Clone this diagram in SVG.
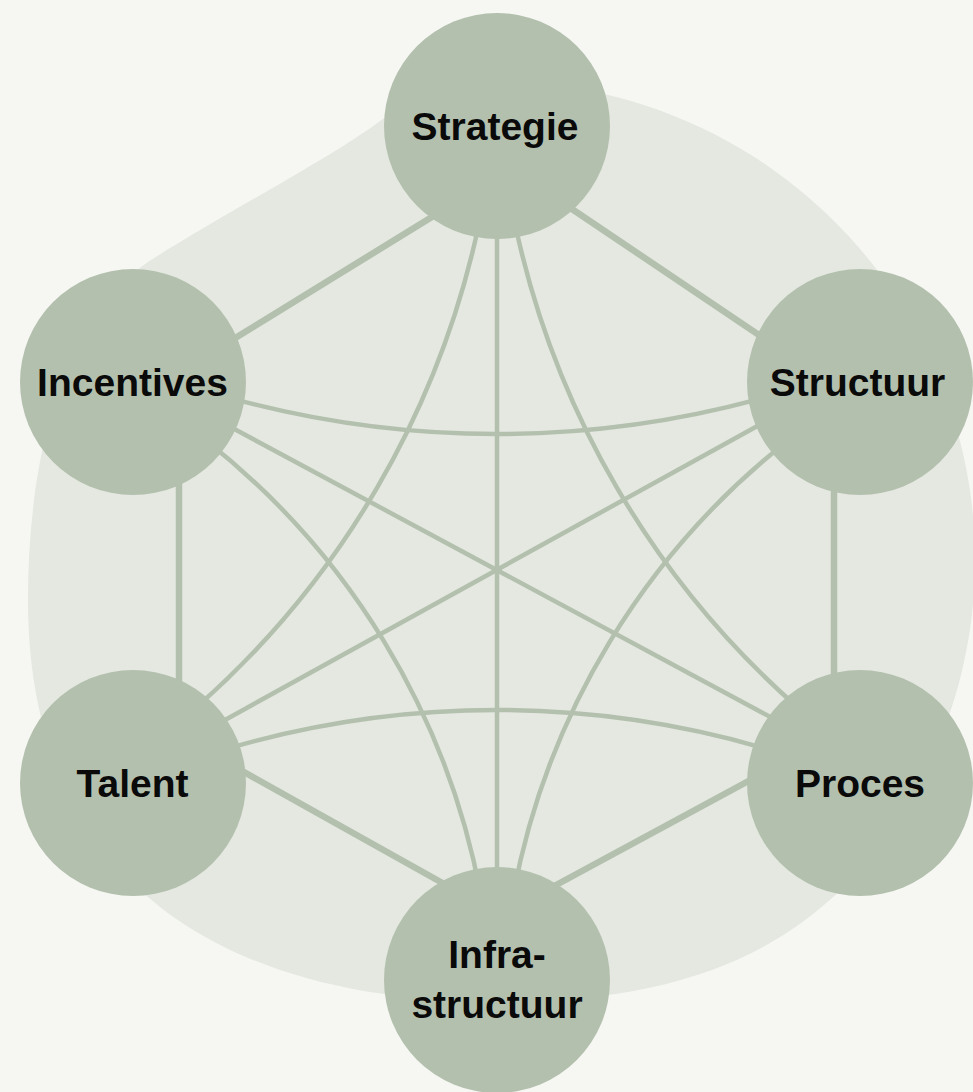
<svg xmlns="http://www.w3.org/2000/svg" width="973" height="1092" viewBox="0 0 973 1092">
<style>
.node{fill:#b4c0ae}
.lbl{font-family:"Liberation Sans",Arial,sans-serif;font-weight:bold;font-size:39px;fill:#0a0a0a;text-anchor:middle}
.edge{fill:none;stroke:#b4c0ae;stroke-width:6.5}
.link{fill:none;stroke:#b4c0ae;stroke-width:4.5}
</style>
<rect x="0" y="0" width="973" height="1092" fill="#f6f7f3"/>
<path id="blob" d="M 148 262 C 190 235, 240 207, 283 182 C 320 160, 360 138, 400 106 L 593.6 91.8 A 478 478 0 0 1 907.7 804.6 C 825.3 941.7, 700 1002, 500 1002 C 220 1002, 28 880, 28 600 C 28 450, 66 318, 148 262 Z" fill="#e4e8e1"/>
<g id="connectors">
<line class="edge" x1="440" y1="212" x2="232" y2="340"/>
<line class="edge" x1="563" y1="203" x2="765" y2="339"/>
<line class="edge" x1="179" y1="470" x2="179" y2="695"/>
<line class="edge" x1="834" y1="480" x2="834" y2="690"/>
<line class="edge" x1="235" y1="767" x2="455" y2="890"/>
<line class="edge" x1="755" y1="777.5" x2="545" y2="891"/>
<line class="link" x1="497" y1="230" x2="497" y2="875"/>
<line class="link" x1="225" y1="424" x2="775" y2="719.5"/>
<line class="link" x1="770" y1="419" x2="220" y2="722.7"/>
<path class="link" d="M 235 399.3 A 1003 1003 0 0 0 758 399.3"/>
<path class="link" d="M 232 747.3 A 957 957 0 0 1 761 747.3"/>
<path class="link" d="M 478.8 224.6 A 889 889 0 0 1 198.2 705.7"/>
<path class="link" d="M 515.2 224.6 A 889 889 0 0 0 795.8 705.7"/>
<path class="link" d="M 204.6 439.6 A 751 751 0 0 1 480.7 894.6"/>
<path class="link" d="M 789.4 439.6 A 751 751 0 0 0 513.3 894.6"/>
</g>
<g id="strategie">
<circle class="node" cx="497" cy="126" r="113"/>
<text class="lbl" x="495" y="139.5">Strategie</text>
</g>
<g id="incentives">
<circle class="node" cx="133" cy="382" r="113"/>
<text class="lbl" x="132.5" y="396">Incentives</text>
</g>
<g id="structuur">
<circle class="node" cx="860" cy="382" r="113"/>
<text class="lbl" x="857.5" y="395.5">Structuur</text>
</g>
<g id="talent">
<circle class="node" cx="133" cy="783" r="113"/>
<text class="lbl" x="132.5" y="797">Talent</text>
</g>
<g id="proces">
<circle class="node" cx="860" cy="783" r="113"/>
<text class="lbl" x="860" y="797">Proces</text>
</g>
<g id="infrastructuur">
<circle class="node" cx="497" cy="980" r="113"/>
<text class="lbl" x="497" y="968">Infra-</text>
<text class="lbl" x="497" y="1018">structuur</text>
</g>
</svg>
